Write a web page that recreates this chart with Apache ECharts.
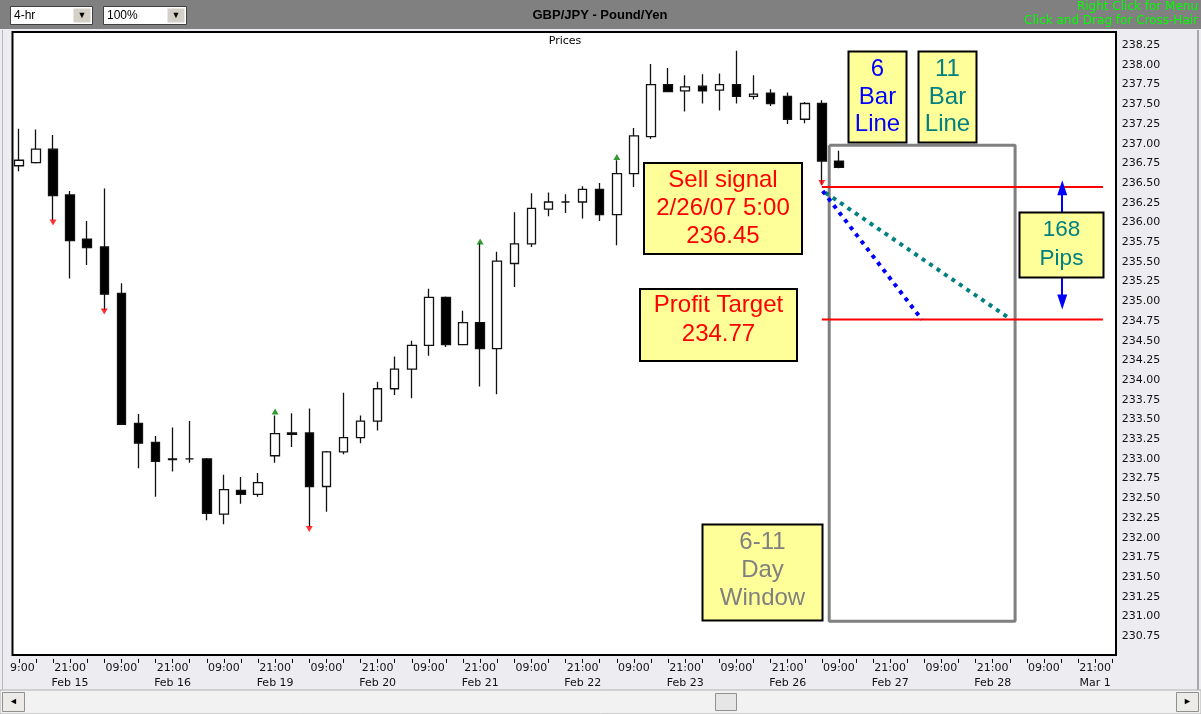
<!DOCTYPE html>
<html><head><meta charset="utf-8">
<script src="https://cdn.jsdelivr.net/npm/echarts@6/dist/echarts.min.js"></script>
<style>html,body{margin:0;padding:0;background:#EDEDF1;}#c{width:1201px;height:714px;}</style>
</head><body><div id="c"></div><script>
// ---- categories (4-hour bars) ----
const barHours = ['09:00','13:00','17:00','21:00','01:00','05:00'];
const tradingDays = ['Feb 14','Feb 15','Feb 16','Feb 19','Feb 20','Feb 21','Feb 22','Feb 23','Feb 26','Feb 27','Feb 28','Mar 1'];
const barCount = 65;
const categories = [];
for (let i = 0; i < barCount; i++) {
  categories.push(tradingDays[Math.floor((i + 3) / 6)] + '|' + barHours[i % 6]);
}
// ---- OHLC values ----
const opens  = [236.72,236.76,236.93,236.35,235.79,235.69,235.10,233.45,233.21,233.00,233.00,233.00,232.30,232.60,232.55,233.04,233.33,233.33,232.65,233.09,233.27,233.48,233.89,234.14,234.44,235.05,234.45,234.73,234.40,235.48,235.73,236.17,236.26,236.26,236.42,236.10,236.62,237.09,237.75,237.67,237.73,237.68,237.75,237.60,237.64,237.60,237.31,237.51,236.78];
const closes = [236.79,236.93,236.34,235.77,235.68,235.09,233.44,233.20,232.97,232.99,233.00,232.31,232.61,232.55,232.70,233.32,233.31,232.65,233.09,233.27,233.48,233.89,234.14,234.44,235.05,234.45,234.73,234.40,235.51,235.73,236.18,236.26,236.26,236.42,236.10,236.62,237.10,237.75,237.66,237.72,237.67,237.75,237.60,237.63,237.51,237.31,237.51,236.78,236.70];
const lows   = [236.65,236.75,236.03,235.29,235.46,234.89,233.43,232.88,232.52,232.84,232.95,232.22,232.17,232.43,232.52,232.95,233.15,232.14,232.33,233.06,233.20,233.36,233.81,233.77,234.31,234.42,234.45,233.92,233.82,235.18,235.69,236.08,236.12,236.05,236.02,235.71,236.45,237.06,237.66,237.41,237.51,237.42,237.51,237.56,237.48,237.25,237.26,236.48,236.69];
const highs  = [237.19,237.18,237.11,236.40,236.02,236.43,235.23,233.57,233.29,233.40,233.48,233.01,232.80,232.77,232.82,233.55,233.58,233.64,233.10,233.84,233.55,233.98,234.30,234.50,235.16,235.06,234.88,235.74,235.63,236.13,236.37,236.38,236.36,236.46,236.50,236.79,237.20,238.01,237.96,237.87,237.88,237.89,238.18,237.87,237.69,237.65,237.53,237.55,236.91];
// ---- signal arrows ----
const sellArrowIdx = [2, 5, 17, 47];
const sellArrowPx  = [236.00, 234.87, 232.11, 236.50];
const buyArrowIdx  = [15, 27, 35];
const buyArrowPx   = [233.60, 235.76, 236.83];
// ---- annotation values ----
const sellSignalPx = 236.45;
const targetPx = 234.77;
const lineStartIdx = 47;
const lineEndIdx = 63.45;
const sixBarLine = [[47.05, 236.40], [52.85, 234.77]];
const elevenBarLine = [[47.2, 236.38], [58.0, 234.78]];
const windowBox = {x0: 47.43, x1: 58.31, top: 236.98, bottom: 230.94};
const pipsArrow = {x: 61.07, top: 236.44, bottom: 234.99};
// ---- y tick labels ----
const yMin = 230.5, yMax = 238.5, yStep = 0.25;

const candleData = opens.map((o, i) => [o, closes[i], lows[i], highs[i]]);

const chart = echarts.init(document.getElementById('c'), null, {renderer: 'canvas'});
const FONT = '"Liberation Sans", Arial, sans-serif';
const SMALL = '"DejaVu Sans", sans-serif';

function box(x, y, w, h, text, color, size, lh, cy) {
  return [
    {type: 'rect', z: 100, shape: {x: x, y: y, width: w, height: h}, style: {fill: '#FFFF99', stroke: '#000', lineWidth: 2}},
    {type: 'text', z: 101, style: {text: text, x: x + w / 2, y: cy, align: 'center', verticalAlign: 'middle', fontSize: size, fontFamily: FONT, fill: color, lineHeight: lh}}
  ];
}

const graphics = [
  // header
  {type: 'rect', z: 0, shape: {x: 0, y: 0, width: 1201, height: 29}, style: {fill: '#808080'}},
  {type: 'rect', z: 1, shape: {x: 10.5, y: 6.5, width: 82, height: 18}, style: {fill: '#fff', stroke: '#404040', lineWidth: 1}},
  {type: 'rect', z: 2, shape: {x: 73, y: 8, width: 18, height: 15}, style: {fill: '#D4D0C8', stroke: '#fff', lineWidth: 1}},
  {type: 'text', z: 3, style: {text: '▼', x: 82, y: 16, align: 'center', verticalAlign: 'middle', fontSize: 9, fill: '#000'}},
  {type: 'text', z: 3, style: {text: '4-hr', x: 14, y: 16, align: 'left', verticalAlign: 'middle', fontSize: 12, fontFamily: FONT, fill: '#000'}},
  {type: 'rect', z: 1, shape: {x: 103.5, y: 6.5, width: 83, height: 18}, style: {fill: '#fff', stroke: '#404040', lineWidth: 1}},
  {type: 'rect', z: 2, shape: {x: 167, y: 8, width: 18, height: 15}, style: {fill: '#D4D0C8', stroke: '#fff', lineWidth: 1}},
  {type: 'text', z: 3, style: {text: '▼', x: 176, y: 16, align: 'center', verticalAlign: 'middle', fontSize: 9, fill: '#000'}},
  {type: 'text', z: 3, style: {text: '100%', x: 107, y: 16, align: 'left', verticalAlign: 'middle', fontSize: 12, fontFamily: FONT, fill: '#000'}},
  {type: 'text', z: 3, style: {text: 'GBP/JPY - Pound/Yen', x: 600, y: 15, align: 'center', verticalAlign: 'middle', fontSize: 13, fontWeight: 'bold', fontFamily: FONT, fill: '#000'}},
  {type: 'text', z: 3, style: {text: 'Right Click for Menu\nClick and Drag for Cross-Hair', x: 1198, y: 14, align: 'right', verticalAlign: 'middle', fontSize: 12, lineHeight: 13.5, fontFamily: SMALL, fill: '#00FF00'}},
  // plot frame
  {type: 'rect', z: 0, shape: {x: 12.5, y: 32, width: 1103.5, height: 623}, style: {fill: '#fff', stroke: '#000', lineWidth: 2}},
  {type: 'text', z: 1, style: {text: 'Prices', x: 565, y: 41, align: 'center', verticalAlign: 'middle', fontSize: 11, fontFamily: SMALL, fill: '#000'}},
  // left strip cover & edges
  {type: 'rect', z: 50, shape: {x: 0, y: 656, width: 10, height: 34}, style: {fill: '#EDEDF1'}},
  {type: 'rect', z: 50, shape: {x: 2, y: 30, width: 1, height: 660}, style: {fill: '#B8B8BC'}},
  {type: 'rect', z: 50, shape: {x: 1197, y: 30, width: 2, height: 660}, style: {fill: '#A8A8AC'}},
  // scrollbar
  {type: 'rect', z: 50, shape: {x: 0, y: 690, width: 1201, height: 24}, style: {fill: '#F2F2F2', stroke: '#B0B0B0', lineWidth: 1}},
  {type: 'rect', z: 51, shape: {x: 2.5, y: 692.5, width: 22, height: 19}, style: {fill: '#ECEBE8', stroke: '#909090', lineWidth: 1}},
  {type: 'text', z: 52, style: {text: '◄', x: 13.5, y: 702, align: 'center', verticalAlign: 'middle', fontSize: 9, fill: '#000'}},
  {type: 'rect', z: 51, shape: {x: 1176.5, y: 692.5, width: 22, height: 19}, style: {fill: '#ECEBE8', stroke: '#909090', lineWidth: 1}},
  {type: 'text', z: 52, style: {text: '►', x: 1187.5, y: 702, align: 'center', verticalAlign: 'middle', fontSize: 9, fill: '#000'}},
  {type: 'rect', z: 51, shape: {x: 715.5, y: 693.5, width: 21, height: 17}, style: {fill: '#E6E6E6', stroke: '#909090', lineWidth: 1}}
].concat(
  box(644, 163, 158, 91, 'Sell signal\n2/26/07 5:00\n236.45', '#FF0000', 24, 28.3, 208.5),
  box(640, 289, 157, 72, 'Profit Target\n234.77', '#FF0000', 24, 29, 319.5),
  box(848.5, 51.5, 58, 91, '6\nBar\nLine', '#0000FF', 24, 27.3, 97),
  box(918.5, 51.5, 58, 91, '11\nBar\nLine', '#008080', 24, 27.3, 97),
  box(1019.5, 212.5, 84, 65, '168\nPips', '#008080', 22.5, 28.3, 244.2),
  box(702.5, 524.5, 120, 96, '6-11\nDay\nWindow', '#808080', 24, 27.8, 570.6)
);

function lineSeries(data, color, width, dash) {
  return {type: 'line', xAxisIndex: 1, yAxisIndex: 0, data: data, symbol: 'none', silent: true, z: 4,
    lineStyle: {color: color, width: width, type: dash || 'solid', cap: 'butt'}};
}

const option = {
  animation: false,
  backgroundColor: '#EDEDF1',
  graphic: graphics,
  grid: {left: 9.75, top: 25.5, width: 1111.1, height: 630.4, containLabel: false},
  xAxis: [
    {type: 'category', data: categories, boundaryGap: true, offset: 3,
      axisLine: {show: false},
      axisTick: {show: true, interval: 0, alignWithLabel: true, length: 4, lineStyle: {color: '#000', width: 1}},
      axisLabel: {interval: 0, margin: 2, fontFamily: SMALL, fontSize: 11, color: '#111', lineHeight: 14.7,
        formatter: function (v) { const p = v.split('|'); if (p[1] === '09:00') return '09:00'; if (p[1] === '21:00') return '21:00\n' + p[0]; return ''; }},
      splitLine: {show: false}},
    {type: 'value', min: -0.5, max: barCount - 0.5, show: false}
  ],
  yAxis: [{type: 'value', position: 'right', min: yMin, max: yMax, interval: yStep, scale: true,
    axisLine: {show: false}, axisTick: {show: false}, splitLine: {show: false},
    axisLabel: {margin: 1, fontFamily: SMALL, fontSize: 11, color: '#111',
      formatter: function (v) { if (v <= yMin + 1e-6 || v >= yMax - 1e-6) return ''; return v.toFixed(2); }}}],
  series: [
    {type: 'candlestick', xAxisIndex: 0, data: candleData, barWidth: 9, z: 3,
      itemStyle: {color: '#fff', color0: '#000', borderColor: '#111', borderColor0: '#111', borderColorDoji: '#111', borderWidth: 1.3}},
    {type: 'scatter', xAxisIndex: 1, z: 5, data: sellArrowIdx.map((x, i) => [x, sellArrowPx[i]]), symbol: 'triangle', symbolRotate: 180, symbolSize: [7, 6], itemStyle: {color: '#FF0000'}},
    {type: 'scatter', xAxisIndex: 1, z: 5, data: buyArrowIdx.map((x, i) => [x, buyArrowPx[i]]), symbol: 'triangle', symbolSize: [7, 6], itemStyle: {color: '#008000'}},
    lineSeries([[windowBox.x0, windowBox.top], [windowBox.x1, windowBox.top], [windowBox.x1, windowBox.bottom], [windowBox.x0, windowBox.bottom], [windowBox.x0, windowBox.top]], '#808080', 3),
    lineSeries([[lineStartIdx, sellSignalPx], [lineEndIdx, sellSignalPx]], '#FF0000', 2),
    lineSeries([[lineStartIdx, targetPx], [lineEndIdx, targetPx]], '#FF0000', 2),
    lineSeries(elevenBarLine, '#008080', 4, [4, 5]),
    lineSeries(sixBarLine, '#0000FF', 4, [4, 5]),
    Object.assign(lineSeries([[pipsArrow.x, pipsArrow.top], [pipsArrow.x, pipsArrow.bottom]], '#0000FF', 0), {
      markLine: {silent: true, symbol: ['triangle', 'triangle'], symbolSize: [10, 15], label: {show: false},
        lineStyle: {color: '#0000FF', width: 2, type: 'solid'},
        data: [[{coord: [pipsArrow.x, pipsArrow.top]}, {coord: [pipsArrow.x, pipsArrow.bottom]}]]}
    })
  ]
};
chart.setOption(option);
</script></body></html>
